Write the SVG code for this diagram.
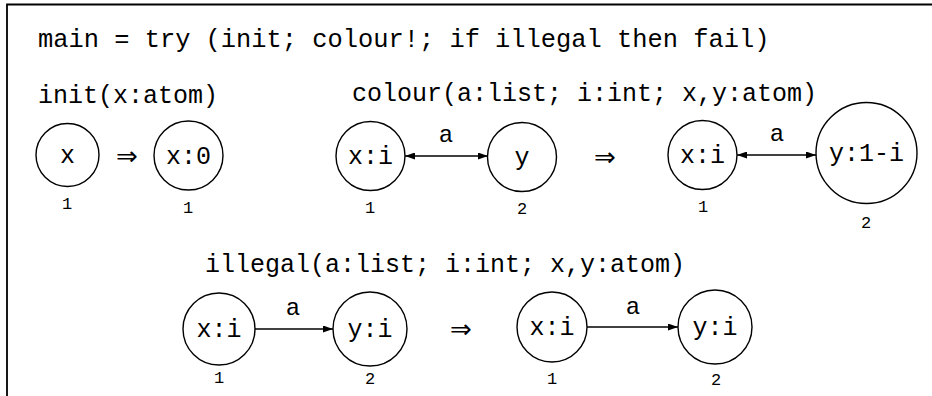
<svg xmlns="http://www.w3.org/2000/svg" width="932" height="396" viewBox="0 0 932 396">
<style>
text{font-family:"Liberation Mono","DejaVu Sans Mono",monospace;fill:#000}
.h{font-size:25px}
.t{font-size:25.4px}
.n{font-size:25px;text-anchor:middle}
.s{font-size:17px;text-anchor:middle}
.e{font-size:24px;text-anchor:middle}
circle{fill:#fff;stroke:#000;stroke-width:1.4}
.c line{stroke:#000;stroke-width:1.4}
.ar{font-family:"DejaVu Sans","Liberation Sans",sans-serif;font-size:26px;text-anchor:middle}
</style>
<defs>
<marker id="ah" viewBox="0 0 10 7" refX="10" refY="3.5" markerWidth="10" markerHeight="7" markerUnits="userSpaceOnUse" orient="auto-start-reverse">
<path d="M0,0 L10,3.5 L0,7 Z" fill="#000"/>
</marker>
</defs>
<rect width="932" height="396" fill="#fff"/>
<path d="M7,396 V4.5 H932" fill="none" stroke="#000" stroke-width="1.8"/>
<text class="t" x="38" y="47">main = try (init; colour!; if illegal then fail)</text>
<text class="h" x="38" y="103">init(x:atom)</text>
<text class="h" x="352" y="101">colour(a:list; i:int; x,y:atom)</text>
<text class="h" x="205" y="272">illegal(a:list; i:int; x,y:atom)</text>

<g id="connectors" class="c">
<line x1="405" y1="156" x2="488" y2="156" marker-start="url(#ah)" marker-end="url(#ah)"/>
<line x1="737" y1="155" x2="816" y2="155" marker-start="url(#ah)" marker-end="url(#ah)"/>
<line x1="255" y1="329" x2="333" y2="329" marker-end="url(#ah)"/>
<line x1="587" y1="327" x2="678" y2="327" marker-end="url(#ah)"/>
<text class="e" x="446" y="142">a</text>
<text class="e" x="777" y="141">a</text>
<text class="e" x="293" y="315">a</text>
<text class="e" x="633" y="314">a</text>
</g>

<text class="ar" x="127" y="165">⇒</text>
<text class="ar" x="605" y="166">⇒</text>
<text class="ar" x="461" y="338">⇒</text>

<g id="init-l-x"><circle cx="67.5" cy="155" r="31.5"/><text class="n" x="67.5" y="163">x</text><text class="s" x="67" y="209">1</text></g>
<g id="init-r-x"><circle cx="188.5" cy="155.5" r="34.5"/><text class="n" x="188.5" y="164">x:0</text><text class="s" x="188" y="213">1</text></g>

<g id="col-l-x"><circle cx="370.5" cy="156" r="34.5"/><text class="n" x="370.5" y="164">x:i</text><text class="s" x="370" y="213">1</text></g>
<g id="col-l-y"><circle cx="522" cy="157" r="34.5"/><text class="n" x="522" y="165">y</text><text class="s" x="522" y="214">2</text></g>
<g id="col-r-x"><circle cx="702.5" cy="155" r="34.5"/><text class="n" x="702.5" y="163">x:i</text><text class="s" x="703" y="212">1</text></g>
<g id="col-r-y"><circle cx="866.5" cy="153" r="50.5"/><text class="n" x="866.5" y="161">y:1-i</text><text class="s" x="866" y="228">2</text></g>

<g id="ill-l-x"><circle cx="219" cy="329" r="36"/><text class="n" x="219" y="337">x:i</text><text class="s" x="219" y="383">1</text></g>
<g id="ill-l-y"><circle cx="370" cy="329" r="37"/><text class="n" x="370" y="337">y:i</text><text class="s" x="370" y="384">2</text></g>
<g id="ill-r-x"><circle cx="552" cy="327" r="35"/><text class="n" x="552" y="335">x:i</text><text class="s" x="552" y="384">1</text></g>
<g id="ill-r-y"><circle cx="715" cy="327" r="37"/><text class="n" x="715" y="335">y:i</text><text class="s" x="716" y="385">2</text></g>
</svg>
